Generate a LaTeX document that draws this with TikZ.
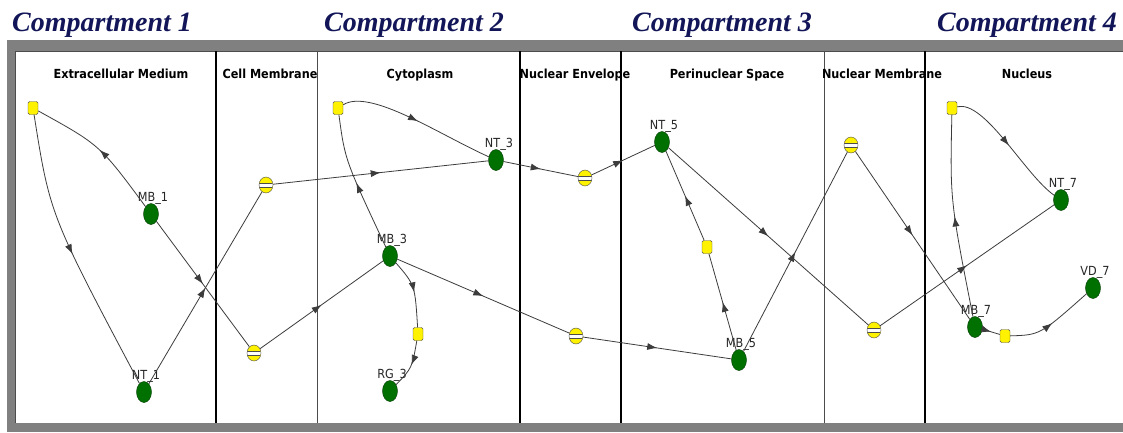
\documentclass[tikz,border=0pt]{standalone}
\usepackage{fontspec}
\usetikzlibrary{shapes.geometric}
\usetikzlibrary{arrows.meta}
\usetikzlibrary{decorations.markings}
\newfontfamily\titlefont{Liberation Serif}
\newfontfamily\labelfont{DejaVu Sans Condensed}
\definecolor{navytitle}{RGB}{18,22,88}
\definecolor{nodegreen}{RGB}{0,112,0}
\definecolor{edgegray}{RGB}{60,60,60}

\begin{document}
\begin{tikzpicture}[x=1pt, y=-1pt,
    compartment/.style={anchor=base west, inner sep=0pt, text=navytitle,
        font=\titlefont\bfseries\itshape\fontsize{28}{28}\selectfont},
    region/.style={anchor=base, inner sep=0pt,
        font=\labelfont\bfseries\fontsize{12.5}{12.5}\selectfont},
    sptag/.style={label distance=-1pt, inner sep=0pt, text=black!85,
        font=\labelfont\fontsize{12.5}{12.5}\selectfont},
    species/.style={ellipse, draw=black!50!nodegreen, fill=nodegreen,
        minimum width=15pt, minimum height=21pt, inner sep=0pt},
    reaction/.style={rectangle, rounded corners=1.5pt, draw=black!70,
        fill=yellow, minimum width=10pt, minimum height=13pt, inner sep=0pt},
    channel/.style={ellipse, draw=black!70, fill=yellow, minimum width=14pt,
        minimum height=16pt, inner sep=0pt,
        path picture={
            \fill[white] ([yshift=-2.2pt]path picture bounding box.west)
                rectangle ([yshift=2.2pt]path picture bounding box.east);
            \draw[black!70, line width=0.6pt]
                ([yshift=-2.2pt]path picture bounding box.west)
                -- ([yshift=-2.2pt]path picture bounding box.east)
                ([yshift=2.2pt]path picture bounding box.west)
                -- ([yshift=2.2pt]path picture bounding box.east);}},
    flow/.style={draw=edgegray, line width=0.8pt, postaction={decorate},
        decoration={markings, mark=at position 0.5 with
            {\arrow{Latex[length=10pt, width=7pt]}}}}]

    \useasboundingbox (0,0) rectangle (1123,432);

    \fill[gray] (7,40) rectangle (1123,432);
    \fill[white] (15,51) rectangle (1123,423);
    \draw[black!70, line width=1pt] (15,423) -- (15,51) -- (1123,51);

    \draw[black, line width=1.2pt] (216,51) -- (216,423);
    \draw[black!70, line width=0.7pt] (317,51) -- (317,423);
    \draw[black, line width=1.2pt] (520,51) -- (520,423);
    \draw[black, line width=1.2pt] (621,51) -- (621,423);
    \draw[black!70, line width=0.7pt] (824,51) -- (824,423);
    \draw[black, line width=1.2pt] (925,51) -- (925,423);

    \node[compartment] at (12,31) {Compartment 1};
    \node[compartment] at (324,31) {Compartment 2};
    \node[compartment] at (632,31) {Compartment 3};
    \node[compartment] at (937,31) {Compartment 4};

    \node[region] at (121,78) {Extracellular Medium};
    \node[region] at (270,78) {Cell Membrane};
    \node[region] at (420,78) {Cytoplasm};
    \node[region] at (575,78) {Nuclear Envelope};
    \node[region] at (727,78) {Perinuclear Space};
    \node[region] at (882,78) {Nuclear Membrane};
    \node[region] at (1027,78) {Nucleus};

    \node[reaction] (ya) at (33,108) {};
    \node[species, label={[sptag, xshift=2pt]above:MB\_1}] (mb1) at (151,214) {};
    \node[species, label={[sptag, xshift=2pt]above:NT\_1}] (nt1) at (144,392) {};
    \node[channel] (cm1) at (266,185) {};
    \node[channel] (cm2) at (254,353) {};

    \node[reaction] (yc) at (338,108) {};
    \node[species, label={[sptag, xshift=3pt]above:NT\_3}] (nt3) at (496,160) {};
    \node[species, label={[sptag, xshift=2pt]above:MB\_3}] (mb3) at (390,256) {};
    \node[reaction] (yd) at (418,334) {};
    \node[species, label={[sptag, xshift=2pt]above:RG\_3}] (rg3) at (390,391) {};
    \node[channel] (ne1) at (585,178) {};
    \node[channel] (ne2) at (576,336) {};

    \node[species, label={[sptag, xshift=2pt]above:NT\_5}] (nt5) at (662,142) {};
    \node[reaction] (y5) at (707,247) {};
    \node[species, label={[sptag, xshift=2pt]above:MB\_5}] (mb5) at (739,360) {};
    \node[channel] (nm1) at (851,145) {};
    \node[channel] (nm2) at (874,330) {};

    \node[reaction] (y7) at (952,108) {};
    \node[species, label={[sptag, xshift=2pt]above:NT\_7}] (nt7) at (1061,200) {};
    \node[species, label={[sptag, xshift=1pt]above:MB\_7}] (mb7) at (975,327) {};
    \node[reaction] (y7b) at (1005,336) {};
    \node[species, label={[sptag, xshift=2pt]above:VD\_7}] (vd7) at (1093,288) {};

    \draw[flow] (mb1) .. controls (100,145) .. (ya);
    \draw[flow] (ya) .. controls (50,215) .. (nt1);
    \draw[flow] (nt1) -- (cm1);
    \draw[flow] (mb1) -- (cm2);
    \draw[flow] (cm1) -- (nt3);
    \draw[flow] (cm2) -- (mb3);

    \draw[flow] (yc) .. controls (370,88) and (440,135) .. (nt3);
    \draw[flow] (mb3) .. controls (345,160) .. (yc);
    \draw[flow] (mb3) .. controls (415,285) .. (yd);
    \draw[flow] (yd) .. controls (412,368) .. (rg3);
    \draw[flow] (nt3) -- (ne1);
    \draw[flow] (mb3) -- (ne2);

    \draw[flow] (ne1) -- (nt5);
    \draw[flow] (ne2) -- (mb5);
    \draw[flow] (mb5) -- (y5);
    \draw[flow] (y5) -- (nt5);
    \draw[flow] (nt5) -- (nm2);
    \draw[flow] (mb5) -- (nm1);

    \draw[flow] (nm1) -- (mb7);
    \draw[flow] (nm2) -- (nt7);
    \draw[flow] (y7) .. controls (985,100) and (1025,175) .. (nt7);
    \draw[flow] (mb7) .. controls (950,200) .. (y7);
    \draw[flow] (mb7) -- (y7b);
    \draw[flow] (y7b) .. controls (1040,335) .. (vd7);
\end{tikzpicture}
\end{document}
